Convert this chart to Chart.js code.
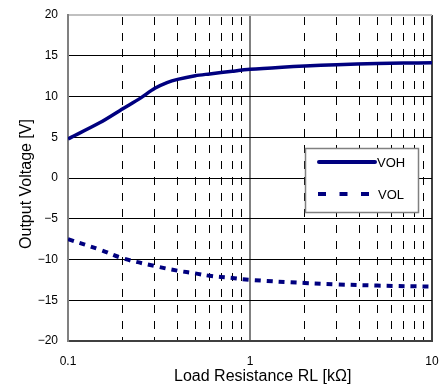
<!DOCTYPE html>
<html>
<head>
<meta charset="utf-8">
<script src="https://cdn.jsdelivr.net/npm/chart.js@4"></script>
<style>
  html, body { margin: 0; padding: 0; background: #fff; }
  #wrap { width: 444px; height: 385px; position: relative; }
</style>
</head>
<body>
<div id="wrap"><canvas id="c"></canvas></div>
<script>
// ---- data ----
const rlVOH = [0.1, 0.15, 0.2, 0.25, 0.3, 0.35, 0.4, 0.5, 0.6, 0.8, 1, 1.5, 2, 3, 5, 7, 10];
const voh   = [4.8, 6.8, 8.5, 9.8, 11.0, 11.7, 12.1, 12.55, 12.77, 13.1, 13.33, 13.6, 13.75, 13.9, 14.05, 14.1, 14.15];
const rlVOL = [0.1, 0.15, 0.2, 0.3, 0.4, 0.5, 0.6, 0.8, 1, 2, 3, 5, 10];
const vol   = [-7.5, -8.8, -9.85, -10.8, -11.37, -11.7, -12.0, -12.27, -12.5, -12.88, -13.05, -13.2, -13.33];
const seriesNames = ['VOH', 'VOL'];
const xTickValues = [0.1,0.2,0.3,0.4,0.5,0.6,0.7,0.8,0.9,1,2,3,4,5,6,7,8,9,10];
const xTickLabels = ['0.1', '1', '10'];
const yTickValues = [-20,-15,-10,-5,0,5,10,15,20];
const xTitle = 'Load Resistance RL [kΩ]';
const yTitle = 'Output Voltage [V]';

const FONT = '"Liberation Sans", Arial, sans-serif';
const NAVY = '#00007f';

function isMajor(v) { return Math.abs(Math.log10(v) - Math.round(Math.log10(v))) < 1e-9; }

const frameAndLegend = {
  id: 'frameAndLegend',
  afterDraw(chart) {
    const ctx = chart.ctx;
    const a = chart.chartArea;
    ctx.save();
    // axis titles
    ctx.fillStyle = '#000';
    ctx.font = '16px ' + FONT;
    ctx.textAlign = 'center';
    ctx.textBaseline = 'middle';
    ctx.fillText(xTitle, a.left + (a.right - a.left) * 0.535, 377);
    ctx.save();
    ctx.translate(27, (a.top + a.bottom) / 2 + 6);
    ctx.rotate(-Math.PI / 2);
    ctx.fillText(yTitle, 0, 0);
    ctx.restore();

    // legend box
    const bx = 305, by = 148, bw = 113, bh = 64;
    ctx.fillStyle = '#fff';
    ctx.fillRect(bx, by, bw, bh);
    ctx.strokeStyle = '#808080';
    ctx.lineWidth = 1.5;
    ctx.strokeRect(bx + 0.5, by + 0.5, bw, bh);
    const ds = chart.data.datasets;
    // VOH entry
    ctx.strokeStyle = NAVY;
    ctx.lineWidth = 4;
    ctx.lineCap = 'round';
    ctx.setLineDash([]);
    ctx.beginPath(); ctx.moveTo(319, 162); ctx.lineTo(375, 162); ctx.stroke();
    // VOL entry
    ctx.lineCap = 'butt';
    ctx.setLineDash([8, 13.5]);
    ctx.beginPath(); ctx.moveTo(318, 194); ctx.lineTo(370, 194); ctx.stroke();
    ctx.setLineDash([]);
    ctx.fillStyle = '#000';
    ctx.font = '13px ' + FONT;
    ctx.textAlign = 'left';
    ctx.textBaseline = 'middle';
    ctx.fillText(ds[0].label, 377, 163);
    ctx.fillText(ds[1].label, 378, 195);
    ctx.restore();
  }
};

new Chart(document.getElementById('c'), {
  type: 'line',
  data: {
    datasets: [
      {
        label: seriesNames[0],
        data: rlVOH.map((x, i) => ({ x, y: voh[i] })),
        borderColor: NAVY,
        backgroundColor: NAVY,
        borderWidth: 3.5,
        pointRadius: 0,
        tension: 0.3,
        fill: false
      },
      {
        label: seriesNames[1],
        data: rlVOL.map((x, i) => ({ x, y: vol[i] })),
        borderColor: NAVY,
        backgroundColor: NAVY,
        borderWidth: 4,
        borderDash: [6, 6],
        pointRadius: 0,
        tension: 0.4,
        fill: false
      }
    ]
  },
  options: {
    responsive: true,
    maintainAspectRatio: false,
    animation: false,
    devicePixelRatio: 1,
    layout: { padding: { top: 15, right: 12, left: 0, bottom: 0 } },
    plugins: {
      legend: { display: false },
      tooltip: { enabled: false }
    },
    scales: {
      x: {
        type: 'logarithmic',
        min: 0.1,
        max: 10,
        afterBuildTicks(scale) {
          scale.ticks = xTickValues.map(v => ({ value: v, major: isMajor(v) }));
        },
        afterFit(scale) {
          scale.height = 44;
          scale.paddingLeft = 0;
          scale.paddingRight = 0;
        },
        ticks: {
          autoSkip: false,
          maxRotation: 0,
          minRotation: 0,
          padding: 13,
          color: '#000',
          font: { family: FONT, size: 12 },
          callback(value) {
            const s = String(Math.round(value * 10) / 10);
            return xTickLabels.includes(s) ? s : '';
          }
        },
        grid: {
          drawTicks: false,
          color(ctx) {
            const v = ctx.tick ? ctx.tick.value : 0;
            if (v >= 10) return '#404040';
            return isMajor(v) ? '#808080' : '#000';
          },
          lineWidth(ctx) {
            const v = ctx.tick ? ctx.tick.value : 0;
            return isMajor(v) ? 2 : 1;
          }
        },
        border: {
          display: true,
          color: '#404040',
          width: 2,
          dash(ctx) {
            if (!ctx.tick) return [];
            return isMajor(ctx.tick.value) ? [] : [8, 8];
          },
          dashOffset: -2
        }
      },
      y: {
        type: 'linear',
        min: -20,
        max: 20,
        afterBuildTicks(scale) {
          scale.ticks = yTickValues.map(v => ({ value: v }));
        },
        afterFit(scale) {
          scale.width = 68;
          scale.paddingTop = 0;
          scale.paddingBottom = 0;
        },
        ticks: {
          padding: 10,
          color: '#000',
          font: { family: FONT, size: 12 },
          callback(value) {
            return String(value).replace('-', '\u2212');
          }
        },
        grid: {
          drawTicks: false,
          color(ctx) {
            const v = ctx.tick ? ctx.tick.value : 0;
            if (v >= 20) return '#c0c0c0';
            if (v <= -20) return '#404040';
            return '#000';
          },
          lineWidth(ctx) {
            const v = ctx.tick ? ctx.tick.value : 0;
            return Math.abs(v) >= 20 ? 2 : 1;
          }
        },
        border: { display: true, color: '#808080', width: 2 }
      }
    }
  },
  plugins: [frameAndLegend]
});
</script>
</body>
</html>
